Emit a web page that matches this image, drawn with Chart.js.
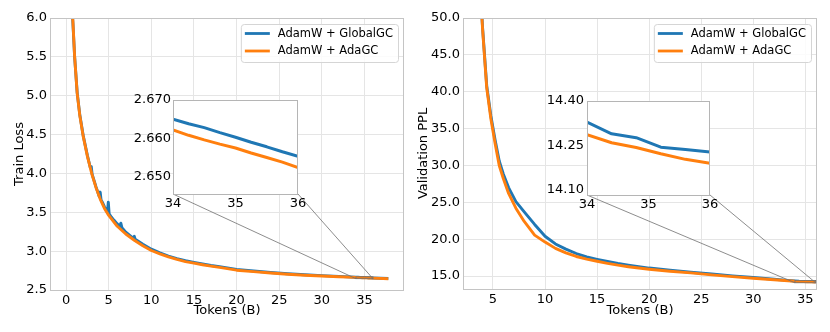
<!DOCTYPE html>
<html>
<head>
<meta charset="utf-8">
<script src="https://cdn.jsdelivr.net/npm/chart.js@4.4.0/dist/chart.umd.min.js"></script>
<style>
    body { margin: 0; background: #fff; }
    #wrap { position: relative; width: 830px; height: 332px; overflow: hidden; }
    canvas { position: absolute; }
</style>
</head>
<body>
<div id="wrap">
    <canvas id="lossMain" width="415" height="332" style="left:0;top:0;width:415px;height:332px"></canvas>
    <canvas id="pplMain" width="415" height="332" style="left:415px;top:0;width:415px;height:332px"></canvas>
    <canvas id="lossInset" width="182" height="126" style="left:128px;top:90px;width:182px;height:126px"></canvas>
    <canvas id="pplInset" width="180" height="127" style="left:542px;top:90px;width:180px;height:127px"></canvas>
</div>
<script>
// train loss, GlobalGC (with the early spikes)
const lossTokensGlobalGC = [0.6, 0.8, 1.0, 1.3, 1.6, 2.0, 2.5, 2.85, 2.95, 3.05, 3.5, 3.9, 4.0, 4.1, 4.3,
    4.5, 4.7, 4.85, 4.95, 5.05, 5.3, 5.6, 6.0, 6.3, 6.42, 6.55, 7.0, 7.5, 7.9, 8.0, 8.1, 9.0, 10, 11, 12,
    13, 14, 15, 16, 17, 18, 20, 22, 24, 26, 28, 30, 32, 34, 34.25, 34.5, 34.75, 35, 35.25, 35.5, 35.75, 36, 37.8];
const lossGlobalGC = [6.3, 5.93, 5.5, 5.04, 4.76, 4.49, 4.23, 4.07, 4.09, 3.99, 3.83, 3.70, 3.76, 3.66, 3.62,
    3.57, 3.53, 3.50, 3.63, 3.48, 3.44, 3.40, 3.35, 3.32, 3.36, 3.30, 3.245, 3.20, 3.165, 3.19, 3.155, 3.09, 3.025, 2.978, 2.937,
    2.903, 2.876, 2.855, 2.835, 2.816, 2.8, 2.766, 2.745, 2.726, 2.709, 2.696, 2.685, 2.675, 2.665, 2.6638, 2.6628, 2.6615, 2.6603, 2.659, 2.6578, 2.6565, 2.6553, 2.648];

// train loss, AdaGC
const lossTokensAdaGC = [0.6, 0.8, 1.0, 1.3, 1.6, 2.0, 2.5, 3.0, 3.5, 4.0, 4.5, 5.0, 6.0, 7.0, 8.0, 9, 10, 11, 12, 13,
    14, 15, 16, 17, 18, 20, 22, 24, 26, 28, 30, 32, 34, 34.25, 34.5, 34.75, 35, 35.25, 35.5, 35.75, 36, 37.8];
const lossAdaGC = [6.3, 5.95, 5.5, 5.03, 4.75, 4.48, 4.22, 4.0, 3.82, 3.67, 3.55, 3.46, 3.32, 3.22, 3.14, 3.07, 3.008, 2.965, 2.925, 2.893,
    2.866, 2.845, 2.825, 2.807, 2.791, 2.755, 2.737, 2.719, 2.703, 2.690, 2.680, 2.671, 2.6622, 2.6608, 2.6596, 2.6585, 2.6575, 2.6562, 2.655, 2.6538, 2.6524, 2.645];

// validation perplexity
const pplTokens = [3.7, 4.0, 4.4, 4.8, 5.2, 5.6, 6.0, 6.5, 7.2, 8.0, 9, 10, 11, 12, 13, 14, 15, 16, 17, 18,
    19, 20, 22, 24, 26, 28, 30, 32, 33, 34, 34.4, 34.8, 35.2, 35.6, 36];
const pplGlobalGC = [56, 48.7, 40.8, 36.7, 33.5, 30.6, 28.8, 27.0, 25.1, 23.7, 22.0, 20.4, 19.35, 18.65, 18.05, 17.6, 17.27, 16.97, 16.7, 16.47,
    16.27, 16.08, 15.78, 15.52, 15.27, 15.02, 14.8, 14.57, 14.45, 14.328, 14.289, 14.276, 14.244, 14.236, 14.228];
const pplAdaGC = [56, 48.5, 40.5, 36.3, 33.0, 30.0, 28.2, 26.2, 24.2, 22.4, 20.55, 19.6, 18.75, 18.15, 17.65, 17.3, 17.0, 16.72, 16.47, 16.26,
    16.08, 15.92, 15.65, 15.42, 15.15, 14.92, 14.7, 14.49, 14.39, 14.286, 14.259, 14.243, 14.222, 14.203, 14.19];

const seriesNames = ["AdamW + GlobalGC", "AdamW + AdaGC"];
const lossXTicks = [0, 5, 10, 15, 20, 25, 30, 35];
const lossYTicks = [2.5, 3.0, 3.5, 4.0, 4.5, 5.0, 5.5, 6.0];
const pplXTicks = [5, 10, 15, 20, 25, 30, 35];
const pplYTicks = [15, 20, 25, 30, 35, 40, 45, 50];
const insetXTicks = [34, 35, 36];
const lossInsetYTicks = [2.650, 2.660, 2.670];
const pplInsetYTicks = [14.10, 14.25, 14.40];

const blue = "#1f77b4";
const orange = "#ff7f0e";

Chart.defaults.font.family = "'DejaVu Sans'";
Chart.defaults.font.size = 13;
Chart.defaults.color = "#000";

function points(xs, ys) {
    return xs.map((x, i) => ({ x: x, y: ys[i] }));
}

function makeDatasets(xsA, ysA, xsB, ysB, width) {
    return [
        { label: seriesNames[0], data: points(xsA, ysA), borderColor: blue, borderWidth: width, order: 1 },
        { label: seriesNames[1], data: points(xsB, ysB), borderColor: orange, borderWidth: width, order: 0 }
    ];
}

function axis(o) {
    return {
        type: "linear",
        min: o.min,
        max: o.max,
        afterBuildTicks: s => { s.ticks = o.ticks.map(v => ({ value: v })); },
        afterFit: s => { if (s.isHorizontal()) s.height = o.size; else s.width = o.size; },
        grid: { display: o.grid, color: "#e5e5e5", lineWidth: 1, drawTicks: false },
        border: { display: false },
        ticks: { padding: o.pad, maxRotation: 0, autoSkip: false, callback: o.fmt },
        title: o.title ? { display: true, text: o.title, padding: o.titlePad } : { display: false }
    };
}

// plot frame (all four sides) and optional white fill
const frame = {
    id: "frame",
    beforeDraw(chart, args, opts) {
        if (!opts.fill) return;
        const a = chart.chartArea;
        chart.ctx.save();
        chart.ctx.fillStyle = "#fff";
        chart.ctx.fillRect(a.left, a.top, a.right - a.left, a.bottom - a.top);
        chart.ctx.restore();
    },
    afterDatasetsDraw(chart, args, opts) {
        const a = chart.chartArea;
        const ctx = chart.ctx;
        ctx.save();
        ctx.strokeStyle = opts.color || "#bdbdbd";
        ctx.lineWidth = 1;
        ctx.strokeRect(Math.round(a.left) + 0.5, Math.round(a.top) + 0.5,
            Math.round(a.right - a.left) - 1, Math.round(a.bottom - a.top));
        ctx.restore();
    }
};

// matplotlib-like legend box in the upper right corner
const boxLegend = {
    id: "boxLegend",
    afterDraw(chart) {
        const ctx = chart.ctx;
        const a = chart.chartArea;
        ctx.save();
        ctx.font = "11.5px 'DejaVu Sans'";
        const labels = chart.data.datasets.map(d => d.label);
        const textW = Math.max(...labels.map(l => ctx.measureText(l).width));
        const w = 4 + 25 + 8 + textW + 5;
        const h = 38;
        const right = a.right - 6;
        const top = a.top + 6;
        const left = right - w;
        ctx.beginPath();
        ctx.roundRect(left + 0.5, top + 0.5, w, h, 3);
        ctx.fillStyle = "rgba(255,255,255,0.85)";
        ctx.fill();
        ctx.strokeStyle = "#d5d5d5";
        ctx.lineWidth = 1;
        ctx.stroke();
        chart.data.datasets.forEach((d, i) => {
            const y = top + 9.5 + i * 17.5;
            ctx.strokeStyle = d.borderColor;
            ctx.lineWidth = 2.8;
            ctx.beginPath();
            ctx.moveTo(left + 4, y);
            ctx.lineTo(left + 29, y);
            ctx.stroke();
            ctx.fillStyle = "#000";
            ctx.textBaseline = "middle";
            ctx.fillText(d.label, left + 37, y + 0.5);
        });
        ctx.restore();
    }
};

// mark_inset style connector lines from the zoom box to the inset axes
function zoomLines(getInset, insetEl, mainEl, x0, x1, y0, y1) {
    return {
        id: "zoomLines",
        afterDraw(chart) {
            const inset = getInset();
            if (!inset) return;
            const ctx = chart.ctx;
            const xs = chart.scales.x, ys = chart.scales.y;
            const px0 = xs.getPixelForValue(x0), px1 = xs.getPixelForValue(x1);
            const pyTop = ys.getPixelForValue(y1), pyBot = ys.getPixelForValue(y0);
            const dx = insetEl.offsetLeft - mainEl.offsetLeft;
            const dy = insetEl.offsetTop - mainEl.offsetTop;
            const ia = inset.chartArea;
            ctx.save();
            ctx.strokeStyle = "#707070";
            ctx.lineWidth = 0.8;
            ctx.strokeRect(px0, pyTop, px1 - px0, pyBot - pyTop);
            ctx.beginPath();
            ctx.moveTo(px0, pyBot);
            ctx.lineTo(dx + ia.left, dy + ia.bottom);
            ctx.moveTo(px1, pyBot);
            ctx.lineTo(dx + ia.right, dy + ia.bottom);
            ctx.stroke();
            ctx.restore();
        }
    };
}

const common = {
    responsive: false,
    animation: false,
    events: [],
    elements: { point: { radius: 0 }, line: { tension: 0, fill: false, borderJoinStyle: "round" } }
};

// ---- insets first, so the main charts can connect to them
const lossInsetEl = document.getElementById("lossInset");
const lossInset = new Chart(lossInsetEl, {
    type: "line",
    data: { datasets: makeDatasets(lossTokensGlobalGC, lossGlobalGC, lossTokensAdaGC, lossAdaGC, 3) },
    options: Object.assign({}, common, {
        layout: { padding: { left: 0, top: 10, right: 12, bottom: 0 } },
        scales: {
            x: axis({ min: 34, max: 36, ticks: insetXTicks, size: 22, pad: 2, grid: false, fmt: v => String(v) }),
            y: axis({ min: 2.6455, max: 2.670, ticks: lossInsetYTicks, size: 45, pad: 2, grid: false, fmt: v => v.toFixed(3) })
        },
        plugins: { legend: { display: false }, tooltip: { enabled: false }, frame: { fill: true, color: "#b5b5b5" } }
    }),
    plugins: [frame]
});

const pplInsetEl = document.getElementById("pplInset");
const pplInset = new Chart(pplInsetEl, {
    type: "line",
    data: { datasets: makeDatasets(pplTokens, pplGlobalGC, pplTokens, pplAdaGC, 3) },
    options: Object.assign({}, common, {
        layout: { padding: { left: 0, top: 10, right: 12, bottom: 0 } },
        scales: {
            x: axis({ min: 34, max: 36, ticks: insetXTicks, size: 22, pad: 2, grid: false, fmt: v => String(v) }),
            y: axis({ min: 14.083, max: 14.40, ticks: pplInsetYTicks, size: 45, pad: 3, grid: false, fmt: v => v.toFixed(2) })
        },
        plugins: { legend: { display: false }, tooltip: { enabled: false }, frame: { fill: true, color: "#b5b5b5" } }
    }),
    plugins: [frame]
});

// ---- main charts
const lossMainEl = document.getElementById("lossMain");
new Chart(lossMainEl, {
    type: "line",
    data: { datasets: makeDatasets(lossTokensGlobalGC, lossGlobalGC, lossTokensAdaGC, lossAdaGC, 2.9) },
    options: Object.assign({}, common, {
        layout: { padding: { left: 0, top: 18, right: 11, bottom: 0 } },
        scales: {
            x: axis({ min: -1.89, max: 39.64, ticks: lossXTicks, size: 42, pad: 3, grid: true, fmt: v => String(v),
                title: "Tokens (B)", titlePad: { top: 0, bottom: 14 } }),
            y: axis({ min: 2.5, max: 6.0, ticks: lossYTicks, size: 50, pad: 3, grid: true, fmt: v => v.toFixed(1),
                title: "Train Loss", titlePad: { top: 12, bottom: 0 } })
        },
        plugins: { legend: { display: false }, tooltip: { enabled: false }, frame: { color: "#c4c4c4" } }
    }),
    plugins: [frame, boxLegend,
        zoomLines(() => lossInset, lossInsetEl, lossMainEl, 34, 36, 2.6455, 2.670)]
});

const pplMainEl = document.getElementById("pplMain");
new Chart(pplMainEl, {
    type: "line",
    data: { datasets: makeDatasets(pplTokens, pplGlobalGC, pplTokens, pplAdaGC, 2.9) },
    options: Object.assign({}, common, {
        layout: { padding: { left: 0, top: 18, right: 13, bottom: 0 } },
        scales: {
            x: axis({ min: 2.12, max: 36.12, ticks: pplXTicks, size: 43, pad: 3, grid: true, fmt: v => String(v),
                title: "Tokens (B)", titlePad: { top: 0, bottom: 14 } }),
            y: axis({ min: 13.24, max: 50, ticks: pplYTicks, size: 48, pad: 3, grid: true, fmt: v => v.toFixed(1),
                title: "Validation PPL", titlePad: { top: 0.5, bottom: 0 } })
        },
        plugins: { legend: { display: false }, tooltip: { enabled: false }, frame: { color: "#c4c4c4" } }
    }),
    plugins: [frame, boxLegend,
        zoomLines(() => pplInset, pplInsetEl, pplMainEl, 34, 36, 14.083, 14.40)]
});
</script>
</body>
</html>
